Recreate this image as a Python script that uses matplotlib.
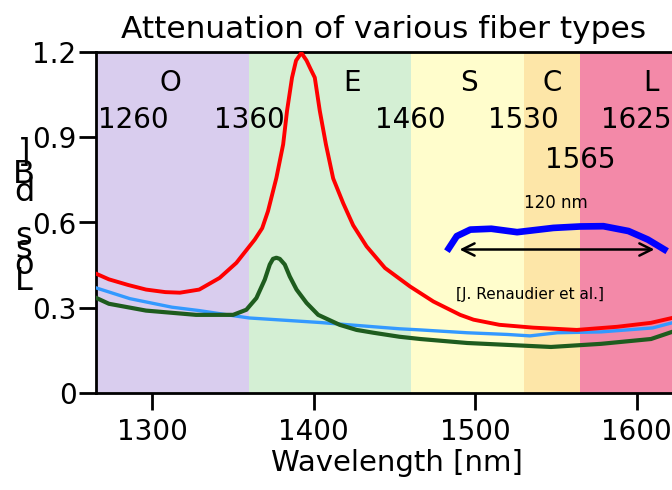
import numpy as np
import matplotlib
matplotlib.use("Agg")
import matplotlib.pyplot as plt

# bands (nm)
band_names = ["O", "E", "S", "C", "L"]
band_edges = [1260, 1360, 1460, 1530, 1565, 1625]
band_colors = ["#d9cdee", "#d4efd4", "#fffdcc", "#fde6a8", "#f389a8"]
band_name_x = [1311, 1424, 1496, 1548, 1609]

# edge labels shown inside the plot
edge_text = ["1260", "1360", "1460", "1530", "1565", "1625"]
edge_x = [1266, 1360, 1460, 1530, 1565, 1578]
edge_y = [0.96, 0.96, 0.96, 0.96, 0.82, 0.96]
edge_ha = ["left", "center", "center", "center", "center", "left"]

# fiber with water peak (red)
red_x = [1265, 1273, 1285, 1296, 1308, 1317, 1329, 1341.6, 1352, 1363.4, 1368, 1371.6,
         1376.8, 1381, 1383.4, 1386.5, 1389, 1392.3, 1395.5, 1398, 1400.6, 1403.7,
         1407.5, 1412, 1418.2, 1424.4, 1432.7, 1444.1, 1459.6, 1474.1, 1490.7, 1499,
         1515, 1536, 1563, 1588, 1609, 1622]
red_y = [0.42, 0.40, 0.38, 0.364, 0.355, 0.353, 0.364, 0.405, 0.458, 0.54, 0.58, 0.64,
         0.757, 0.875, 0.993, 1.11, 1.17, 1.197, 1.17, 1.14, 1.11, 0.993,
         0.875, 0.755, 0.668, 0.59, 0.516, 0.44, 0.375, 0.322, 0.275, 0.258,
         0.24, 0.23, 0.222, 0.233, 0.247, 0.264]

# low water peak fiber (light blue)
blue_x = [1265, 1286, 1312, 1329, 1343, 1360, 1404, 1453, 1466, 1495, 1520, 1534,
          1551, 1578, 1610, 1622]
blue_y = [0.37, 0.332, 0.302, 0.29, 0.278, 0.264, 0.248, 0.226, 0.222, 0.212, 0.206,
          0.201, 0.212, 0.215, 0.229, 0.247]

# dark green fiber
green_x = [1265, 1273, 1296, 1327, 1350, 1358.2, 1364.4, 1369.6, 1372.7, 1374.7,
           1376.8, 1378.9, 1382, 1385.1, 1389.3, 1395.5, 1402.7, 1416, 1426.5, 1437,
           1453, 1466, 1495, 1547, 1578, 1609, 1622]
green_y = [0.335, 0.314, 0.29, 0.275, 0.275, 0.293, 0.334, 0.399, 0.452, 0.472,
           0.476, 0.472, 0.452, 0.41, 0.364, 0.317, 0.275, 0.24, 0.222, 0.212,
           0.198, 0.19, 0.176, 0.162, 0.173, 0.19, 0.215]

# amplifier gain profile (thick blue)
gain_x = [1482.5, 1488.6, 1497, 1510, 1526, 1548.5, 1565, 1579.5, 1595, 1607, 1619]
gain_y = [0.499, 0.552, 0.575, 0.578, 0.566, 0.581, 0.586, 0.587, 0.57, 0.54, 0.499]

arrow_x = [1488.6, 1612.8]
arrow_y = 0.505

fig = plt.figure(figsize=(6.72, 4.9), dpi=100)
ax = fig.add_axes([96 / 672, 97 / 490, 576 / 672, 341 / 490])

for i, name in enumerate(band_names):
    ax.axvspan(band_edges[i], band_edges[i + 1], color=band_colors[i], lw=0, zorder=0)
    ax.text(band_name_x[i], 1.09, name, fontsize=20, ha="center", va="center")

for t, x, y, ha in zip(edge_text, edge_x, edge_y, edge_ha):
    ax.text(x, y, t, fontsize=20, ha=ha, va="center")

ax.plot(blue_x, blue_y, color="#3399ff", lw=2.4, zorder=3)
ax.plot(red_x, red_y, color="#ff0000", lw=2.8, zorder=4)
ax.plot(green_x, green_y, color="#1e5c1e", lw=3.0, zorder=5)
ax.plot(gain_x, gain_y, color="#0000ff", lw=4.8, solid_capstyle="butt", zorder=6)

ax.annotate("", xy=(arrow_x[1], arrow_y), xytext=(arrow_x[0], arrow_y),
            arrowprops=dict(arrowstyle="<->", color="black", lw=1.8, mutation_scale=22),
            zorder=7)
ax.text(1550, 0.67, "120 nm", fontsize=12, ha="center", va="center")
ax.text(1534, 0.346, "[J. Renaudier et al.]", fontsize=11, ha="center", va="center")

ax.set_xlim(1265, 1622)
ax.set_ylim(0, 1.2)
ax.set_xticks([1300, 1400, 1500, 1600])
ax.set_yticks([0, 0.3, 0.6, 0.9, 1.2])
ax.set_yticklabels(["0", "0.3", "0.6", "0.9", "1.2"])
ax.tick_params(axis="both", labelsize=20, width=2, length=12, direction="out")
ax.tick_params(axis="x", pad=6)
ax.tick_params(axis="y", pad=2)
for side in ["left", "bottom", "top"]:
    ax.spines[side].set_linewidth(2)
ax.spines["right"].set_visible(False)

ax.set_title("Attenuation of various fiber types", fontsize=22.5, pad=10)
ax.set_xlabel("Wavelength [nm]", fontsize=21)
ax.xaxis.set_label_coords((397 - 96) / 576, -0.165)

# y label drawn as stacked upright letters
ylab_chars = ["L", "o", "s", "s", "d", "B", "]"]
ylab_py = [282, 265, 249, 236, 192, 174, 153]
for c, py in zip(ylab_chars, ylab_py):
    fig.text(24 / 672, 1 - py / 490, c, fontsize=23, ha="center", va="center")

fig.savefig("out.png", dpi=100)
